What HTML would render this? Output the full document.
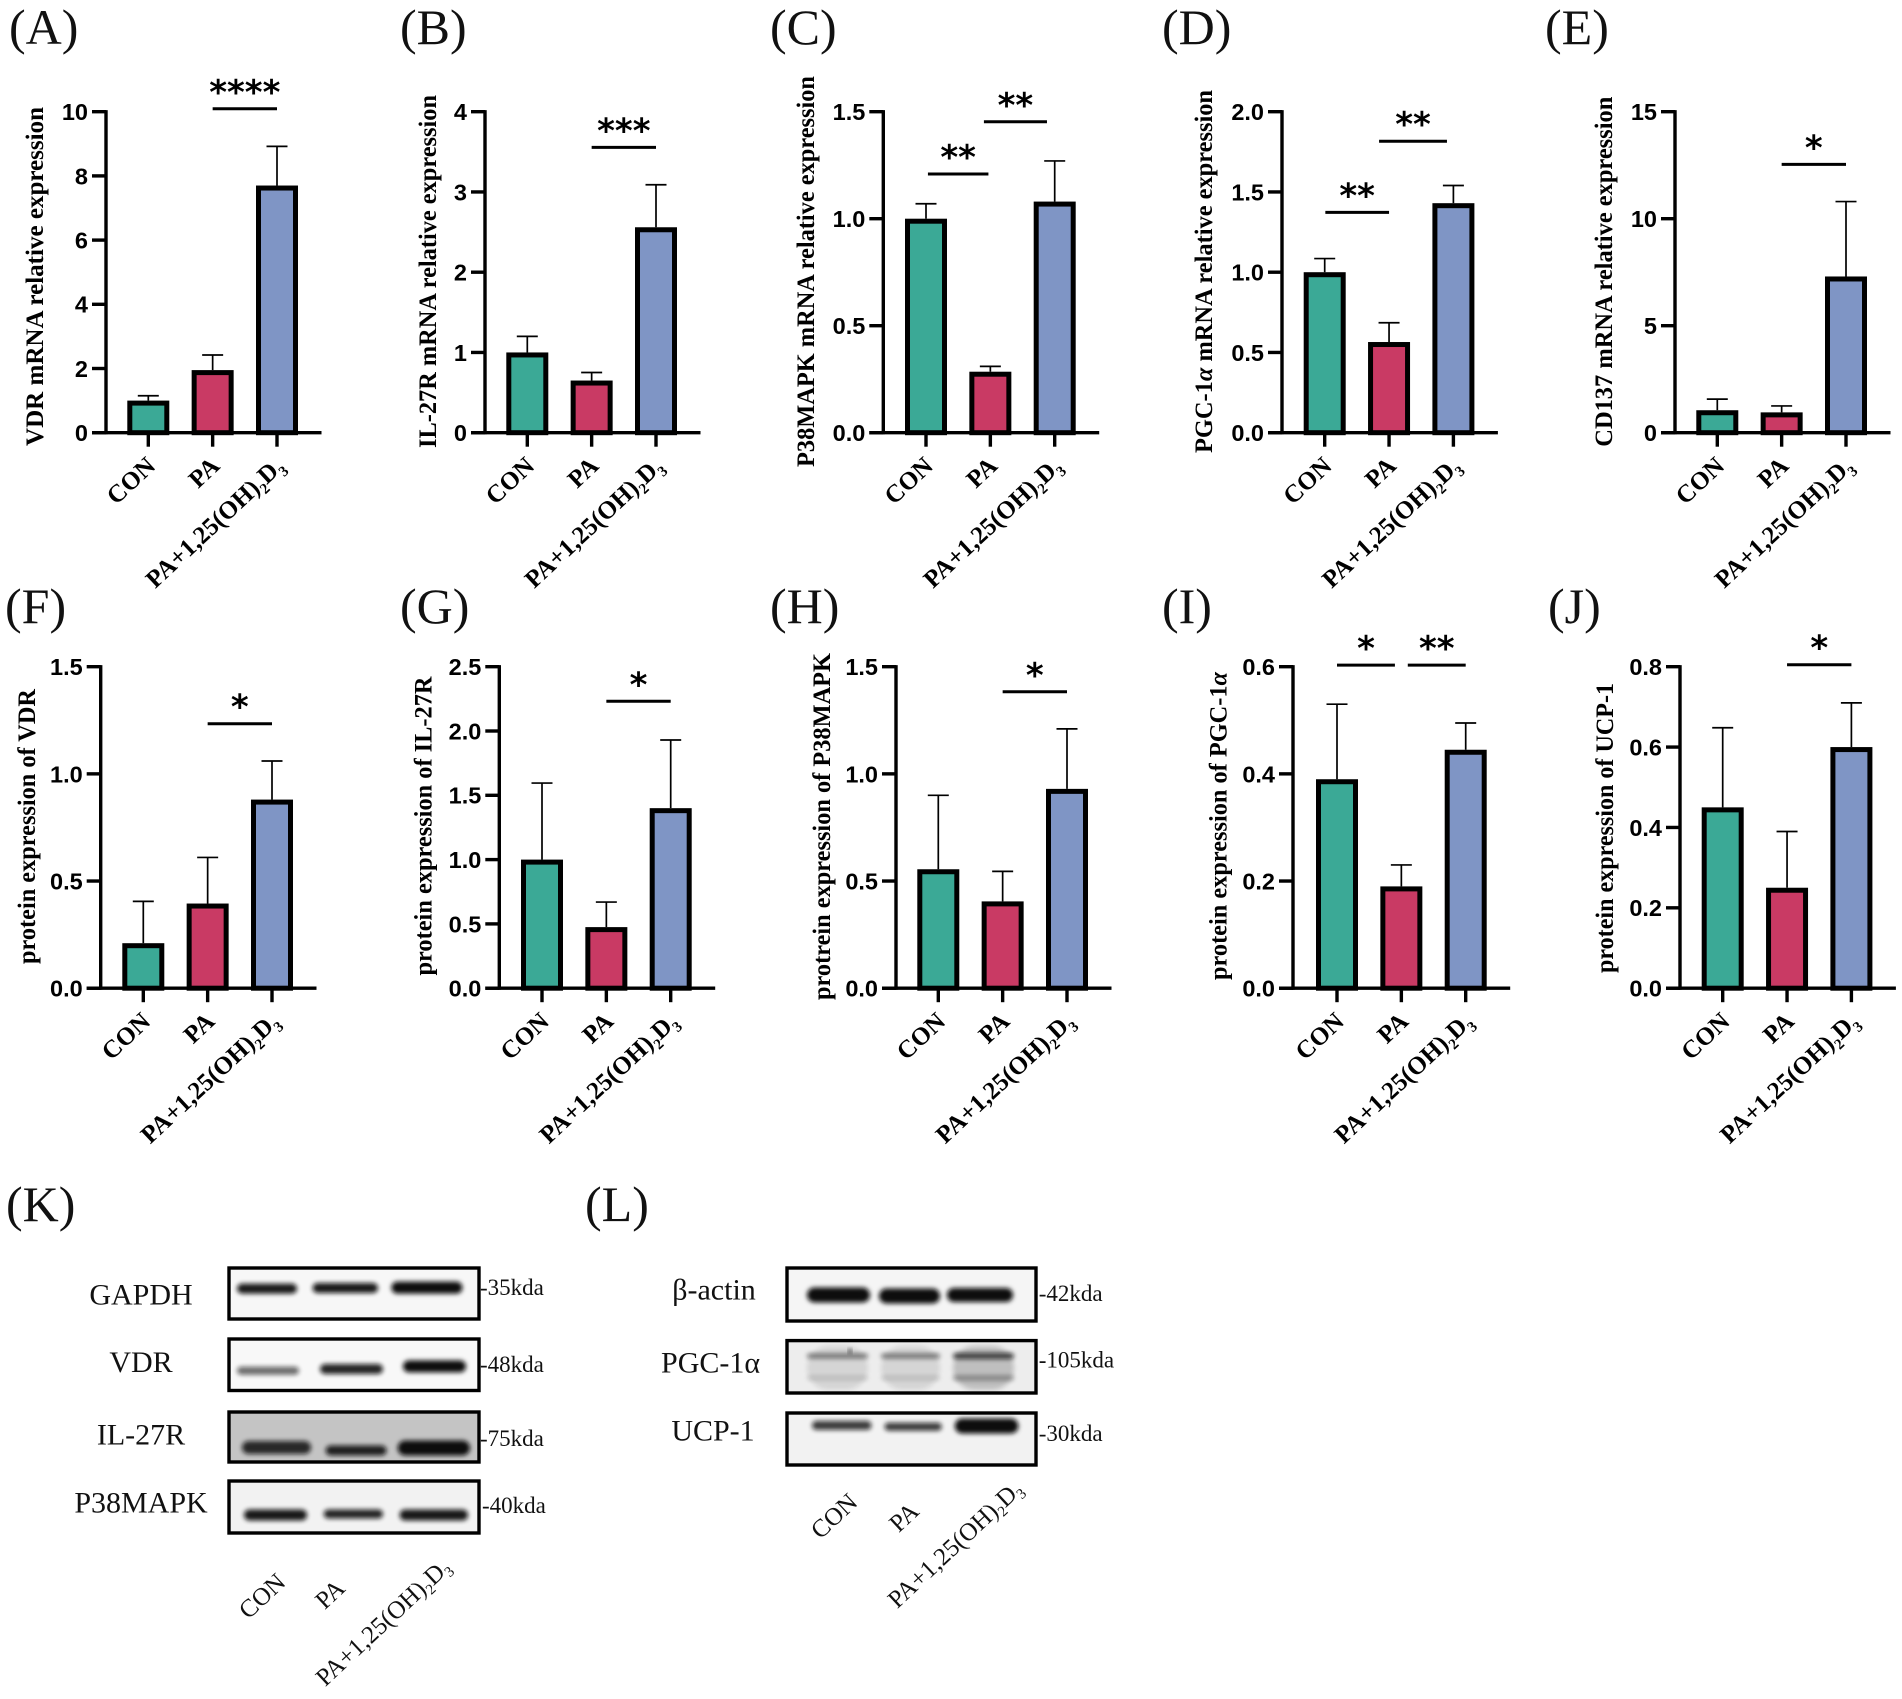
<!DOCTYPE html>
<html lang="en">
<head>
<meta charset="utf-8">
<title>VDR, IL-27R, P38MAPK, PGC-1α and UCP-1 expression</title>
<style>
html,body{margin:0;padding:0;background:#fff;}
svg{display:block;}
.letter{font-family:"Liberation Serif",serif;font-size:50px;fill:#111;}
.tick{font-family:"Liberation Sans",sans-serif;font-weight:bold;font-size:23.5px;fill:#000;}
.ylab{font-family:"Liberation Serif",serif;font-weight:bold;font-size:25px;fill:#000;}
.xlab{font-family:"Liberation Serif",serif;font-weight:bold;font-size:25px;fill:#000;}
.star{font-family:"DejaVu Sans",sans-serif;font-weight:bold;font-size:34px;fill:#000;}
.blab{font-family:"Liberation Serif",serif;font-size:30px;fill:#111;}
.kda{font-family:"Liberation Serif",serif;font-size:23px;fill:#111;}
.lane{font-family:"Liberation Serif",serif;font-size:25px;fill:#111;}
</style>
</head>
<body>
<svg id="fig" xmlns="http://www.w3.org/2000/svg" width="1902" height="1699" viewBox="0 0 1902 1699">
<defs>
<filter id="bandBlur" x="-20%" y="-100%" width="140%" height="300%"><feGaussianBlur stdDeviation="2.3"/></filter>
</defs>
<rect width="1902" height="1699" fill="#fff"/>
<text class="letter" x="9" y="44">(A)</text>
<text class="letter" x="400" y="44">(B)</text>
<text class="letter" x="770" y="44">(C)</text>
<text class="letter" x="1162" y="44">(D)</text>
<text class="letter" x="1545" y="44">(E)</text>
<text class="letter" x="5" y="623">(F)</text>
<text class="letter" x="400" y="623">(G)</text>
<text class="letter" x="770" y="623">(H)</text>
<text class="letter" x="1162" y="623">(I)</text>
<text class="letter" x="1548" y="623">(J)</text>
<text class="letter" x="6" y="1221">(K)</text>
<text class="letter" x="585" y="1221">(L)</text>
</svg>
<script>
const categories = ["CON", "PA", "PA+1,25(OH)2D3"];

const meansA = [1.0, 1.95, 7.7];
const errorsA = [0.15, 0.47, 1.22];
const ticksA = ["0", "2", "4", "6", "8", "10"];
const sigA = [{from: 1, to: 2, level: 10.09, label: "****"}];

const meansB = [1.0, 0.65, 2.56];
const errorsB = [0.2, 0.1, 0.53];
const ticksB = ["0", "1", "2", "3", "4"];
const sigB = [{from: 1, to: 2, level: 3.556, label: "***"}];

const meansC = [1.0, 0.285, 1.08];
const errorsC = [0.07, 0.025, 0.19];
const ticksC = ["0.0", "0.5", "1.0", "1.5"];
const sigC = [{from: 0.03, to: 0.97, level: 1.209, label: "**"}, {from: 0.9, to: 1.88, level: 1.453, label: "**"}];

const meansD = [1.0, 0.565, 1.43];
const errorsD = [0.085, 0.12, 0.11];
const ticksD = ["0.0", "0.5", "1.0", "1.5", "2.0"];
const sigD = [{from: 0.01, to: 1, level: 1.373, label: "**"}, {from: 0.845, to: 1.9, level: 1.816, label: "**"}];

const meansE = [1.05, 0.95, 7.3];
const errorsE = [0.52, 0.3, 3.5];
const ticksE = ["0", "5", "10", "15"];
const sigE = [{from: 1, to: 2, level: 12.54, label: "*"}];

const meansF = [0.21, 0.395, 0.88];
const errorsF = [0.195, 0.215, 0.18];
const ticksF = ["0.0", "0.5", "1.0", "1.5"];
const sigF = [{from: 1, to: 2, level: 1.234, label: "*"}];

const meansG = [1.0, 0.475, 1.4];
const errorsG = [0.595, 0.195, 0.53];
const ticksG = ["0.0", "0.5", "1.0", "1.5", "2.0", "2.5"];
const sigG = [{from: 1, to: 2, level: 2.231, label: "*"}];

const meansH = [0.555, 0.405, 0.93];
const errorsH = [0.345, 0.14, 0.28];
const ticksH = ["0.0", "0.5", "1.0", "1.5"];
const sigH = [{from: 1, to: 2, level: 1.383, label: "*"}];

const meansI = [0.39, 0.19, 0.445];
const errorsI = [0.14, 0.04, 0.05];
const ticksI = ["0.0", "0.2", "0.4", "0.6"];
const sigI = [{from: 0, to: 0.9, level: 0.603, label: "*"}, {from: 1.1, to: 2, level: 0.603, label: "**"}];

const meansJ = [0.45, 0.25, 0.6];
const errorsJ = [0.198, 0.14, 0.11];
const ticksJ = ["0.0", "0.2", "0.4", "0.6", "0.8"];
const sigJ = [{from: 1, to: 2, level: 0.805, label: "*"}];

const SVGNS = "http://www.w3.org/2000/svg";
const fig = document.getElementById("fig");
const barColors = ["#3ba996", "#c93a64", "#7f95c5"];
const GROUP_STEP = 64.35, BAR_W = 42, BAR_STROKE = 5;
const rows = [{top: 111.7, bottom: 432.7}, {top: 666.7, bottom: 988.2}];

function mk(tag, attrs, parent, text) {
  const e = document.createElementNS(SVGNS, tag);
  for (const k in attrs) e.setAttribute(k, attrs[k]);
  if (text !== undefined) e.textContent = text;
  (parent || fig).appendChild(e);
  return e;
}

function fillCategoryLabel(t, label, sub) {
  const m = label.match(/^(.*\))(\d)(D)(\d)$/);
  if (!m) { t.textContent = label; return; }
  t.appendChild(document.createTextNode(m[1]));
  mk("tspan", {dy: sub, "font-size": "0.6em"}, t, m[2]);
  mk("tspan", {dy: -sub}, t, m[3]);
  mk("tspan", {dy: sub, "font-size": "0.6em"}, t, m[4]);
}

function drawPanel(p) {
  const row = rows[p.row];
  const g = mk("g", {});
  
  
  const vmax = parseFloat(p.ticks[p.ticks.length - 1]);
  const yScale = v => row.bottom - (v / vmax) * (row.bottom - row.top);
  const xScale = i => p.firstTick + i * GROUP_STEP;
  const lastX = xScale(categories.length - 1);

  const ylab = mk("text", {class: "ylab", "text-anchor": "middle",
    transform: "translate(" + p.labelX + "," + p.labelY + ") rotate(-90)",
    textLength: p.labelLen, lengthAdjust: "spacingAndGlyphs"}, g);
  
  
  p.title.forEach(part => mk("tspan", part[1] ? {"font-style": "italic"} : {}, ylab, part[0]));

  p.means.forEach((v, i) => {
    const cx = xScale(i), top = yScale(v), errTop = yScale(v + p.errors[i]);
    const stem = mk("line", {x1: cx, x2: cx, y1: top, y2: errTop, stroke: "#000", "stroke-width": 1.7}, g);
    
    
    const cap = mk("line", {x1: cx - 10.5, x2: cx + 10.5, y1: errTop, y2: errTop, stroke: "#000", "stroke-width": 1.7}, g);
    
    
    const bar = mk("rect", {x: cx - BAR_W / 2 + BAR_STROKE / 2, y: top + BAR_STROKE / 2,
      width: BAR_W - BAR_STROKE, height: Math.max(0, row.bottom - top - BAR_STROKE / 2),
      fill: barColors[i], stroke: "#000", "stroke-width": BAR_STROKE}, g);
    
    
  });

  const yAxis = mk("line", {x1: p.axisX, x2: p.axisX, y1: row.top - 1.6, y2: row.bottom + 1.6, stroke: "#000", "stroke-width": 3.4}, g);
  
  
  const xAxis = mk("line", {x1: p.axisX - 14, x2: lastX + 44.5, y1: row.bottom, y2: row.bottom, stroke: "#000", "stroke-width": 3.4}, g);
  
  

  p.ticks.forEach(lbl => {
    const y = yScale(parseFloat(lbl));
    const tk = mk("line", {x1: p.axisX - 14, x2: p.axisX, y1: y, y2: y, stroke: "#000", "stroke-width": 3.4}, g);
    
    
    const tl = mk("text", {class: "tick", x: p.axisX - 18, y: y + 8.4, "text-anchor": "end"}, g, lbl);
    
    
  });

  categories.forEach((c, i) => {
    const x = xScale(i);
    const tk = mk("line", {x1: x, x2: x, y1: row.bottom, y2: row.bottom + 14, stroke: "#000", "stroke-width": 3.4}, g);
    
    
    const tl = mk("text", {class: "xlab", "text-anchor": "end",
      transform: "translate(" + (x + 8.5) + "," + (row.bottom + 35) + ") rotate(-43)"}, g);
    fillCategoryLabel(tl, c, 6);
    
    
  });

  p.sig.forEach(s => {
    const y = yScale(s.level), x1 = xScale(s.from), x2 = xScale(s.to);
    const ln = mk("line", {x1: x1, x2: x2, y1: y, y2: y, stroke: "#000", "stroke-width": 3}, g);
    
    
    const st = mk("text", {class: "star", x: (x1 + x2) / 2, y: y - 5, "text-anchor": "middle"}, g, s.label);
    
    
  });
}

const panels = [
  {id: "a", row: 0, axisX: 106, firstTick: 148.3, labelX: 43, labelY: 276.5, labelLen: 339, means: meansA, errors: errorsA, ticks: ticksA, sig: sigA, title: [["VDR mRNA relative expression"]]},
  {id: "b", row: 0, axisX: 485, firstTick: 527.3, labelX: 436, labelY: 271.5, labelLen: 353, means: meansB, errors: errorsB, ticks: ticksB, sig: sigB, title: [["IL-27R mRNA relative expression"]]},
  {id: "c", row: 0, axisX: 883.3, firstTick: 926, labelX: 814, labelY: 271.5, labelLen: 391, means: meansC, errors: errorsC, ticks: ticksC, sig: sigC, title: [["P38MAPK mRNA relative expression"]]},
  {id: "d", row: 0, axisX: 1282, firstTick: 1324.7, labelX: 1212, labelY: 271.5, labelLen: 363, means: meansD, errors: errorsD, ticks: ticksD, sig: sigD, title: [["PGC-1"], ["α", true], [" mRNA relative expression"]]},
  {id: "e", row: 0, axisX: 1675, firstTick: 1717.3, labelX: 1612, labelY: 271.7, labelLen: 350, means: meansE, errors: errorsE, ticks: ticksE, sig: sigE, title: [["CD137 mRNA relative expression"]]},
  {id: "f", row: 1, axisX: 100.7, firstTick: 143.3, labelX: 35, labelY: 826.5, labelLen: 275, means: meansF, errors: errorsF, ticks: ticksF, sig: sigF, title: [["protein expression of VDR"]]},
  {id: "g", row: 1, axisX: 499.3, firstTick: 542, labelX: 431.5, labelY: 826, labelLen: 299, means: meansG, errors: errorsG, ticks: ticksG, sig: sigG, title: [["protein expression of IL-27R"]]},
  {id: "h", row: 1, axisX: 896, firstTick: 938.3, labelX: 830, labelY: 826.5, labelLen: 347, means: meansH, errors: errorsH, ticks: ticksH, sig: sigH, title: [["protrein expression of P38MAPK"]]},
  {id: "i", row: 1, axisX: 1293, firstTick: 1337, labelX: 1226.7, labelY: 826, labelLen: 308, means: meansI, errors: errorsI, ticks: ticksI, sig: sigI, title: [["protein expression of PGC-1"], ["α", true]]},
  {id: "j", row: 1, axisX: 1680, firstTick: 1722.7, labelX: 1612.8, labelY: 828, labelLen: 290, means: meansJ, errors: errorsJ, ticks: ticksJ, sig: sigJ, title: [["protein expression of UCP-1"]]}
];
panels.forEach(drawPanel);

/* Western blot images */
const blots = [
  {name: "gapdh", x: 229, y: 1268, w: 250, h: 51, bg: "#f7f7f7", label: "GAPDH", lx: 141, ly: 1304.5, kda: "-35kda", kx: 480, ky: 1295,
   bands: [[237,297,1288.6,10,.95],[312.6,378,1288,10,.95],[391.4,462.4,1287.6,12,1]]},
  {name: "vdr", x: 229, y: 1339, w: 250, h: 51.5, bg: "#f8f8f8", label: "VDR", lx: 141, ly: 1372, kda: "-48kda", kx: 480, ky: 1372,
   bands: [[237,299,1370.7,8,.6],[320,383,1369,10,.9],[403,466,1366.4,12,1]]},
  {name: "il-27r", x: 229, y: 1412, w: 250, h: 50, bg: "#c4c4c4", label: "IL-27R", lx: 141, ly: 1444.5, kda: "-75kda", kx: 480, ky: 1446,
   bands: [[242,311,1447.5,13,.85],[325.6,386.6,1450.5,10,.9],[397.7,470,1448,15,1]]},
  {name: "p38mapk", x: 229, y: 1481, w: 250, h: 52, bg: "#f2f2f2", label: "P38MAPK", lx: 141, ly: 1512.5, kda: "-40kda", kx: 482, ky: 1513,
   bands: [[244,307,1515,11,.95],[323.7,383,1514,9,.9],[399.6,468,1515,11,.95]]},
  {name: "beta-actin", x: 787, y: 1268, w: 249, h: 53, bg: "#f5f5f5", label: "β-actin", lx: 714, ly: 1299.5, kda: "-42kda", kx: 1038.7, ky: 1301,
   bands: [[807,870,1295,15,1],[879,940,1296,15,1],[947,1013,1295,14,1]]},
  {name: "pgc-1a", x: 787, y: 1340.6, w: 249, h: 52.4, bg: "#ededed", label: "PGC-1α", lx: 710.6, ly: 1372.5, kda: "-105kda", kx: 1038.7, ky: 1367.5,
   bands: [[807,868,1368,44,.1],[881,940,1368,44,.1],[953,1014,1368,44,.2],[807,868,1356,5,.5],[881,940,1356,5,.5],[953,1014,1356,6,.75],[807,868,1378,4,.15],[881,940,1378,4,.15],[953,1014,1378,5,.35],[848,852,1351,3,1]]},
  {name: "ucp-1", x: 787, y: 1413, w: 249, h: 52, bg: "#f2f2f2", label: "UCP-1", lx: 713, ly: 1440.5, kda: "-30kda", kx: 1038.7, ky: 1441,
   bands: [[812,871.5,1425.4,9,.8],[884.5,941.8,1426.7,8,.8],[954.8,1018.4,1426,15,1]]}
];

const defs = fig.querySelector("defs");
blots.forEach(b => {
  const cp = mk("clipPath", {id: "clip-" + b.name}, defs);
  mk("rect", {x: b.x, y: b.y, width: b.w, height: b.h}, cp);
  const g = mk("g", {});
  
  
  const bg = mk("rect", {x: b.x, y: b.y, width: b.w, height: b.h, fill: b.bg}, g);
  
  
  const inner = mk("g", {"clip-path": "url(#clip-" + b.name + ")"}, g);
  b.bands.forEach(d => {
    const r = mk("rect", {x: d[0], y: d[2] - d[3] / 2, width: d[1] - d[0], height: d[3], rx: d[3] / 2,
      fill: "#0a0a0a", opacity: d[4], filter: "url(#bandBlur)"}, inner);
    
    
  });
  const fr = mk("rect", {x: b.x, y: b.y, width: b.w, height: b.h, fill: "none", stroke: "#000", "stroke-width": 3.4}, g);
  
  
  const lab = mk("text", {class: "blab", x: b.lx, y: b.ly, "text-anchor": "middle"}, g, b.label);
  
  
  const kd = mk("text", {class: "kda", x: b.kx, y: b.ky}, g, b.kda);
  
  
});

const laneAnchors = [
  {panel: "k", points: [[287, 1584], [346.5, 1590], [452, 1569]]},
  {panel: "l", points: [[859, 1504], [920.5, 1513], [1024, 1491]]}
];
laneAnchors.forEach(a => {
  a.points.forEach((pt, i) => {
    const t = mk("text", {class: "lane", "text-anchor": "end",
      transform: "translate(" + pt[0] + "," + pt[1] + ") rotate(-43)"});
    fillCategoryLabel(t, categories[i], 5);
    
    
  });
});
</script>
</body>
</html>
